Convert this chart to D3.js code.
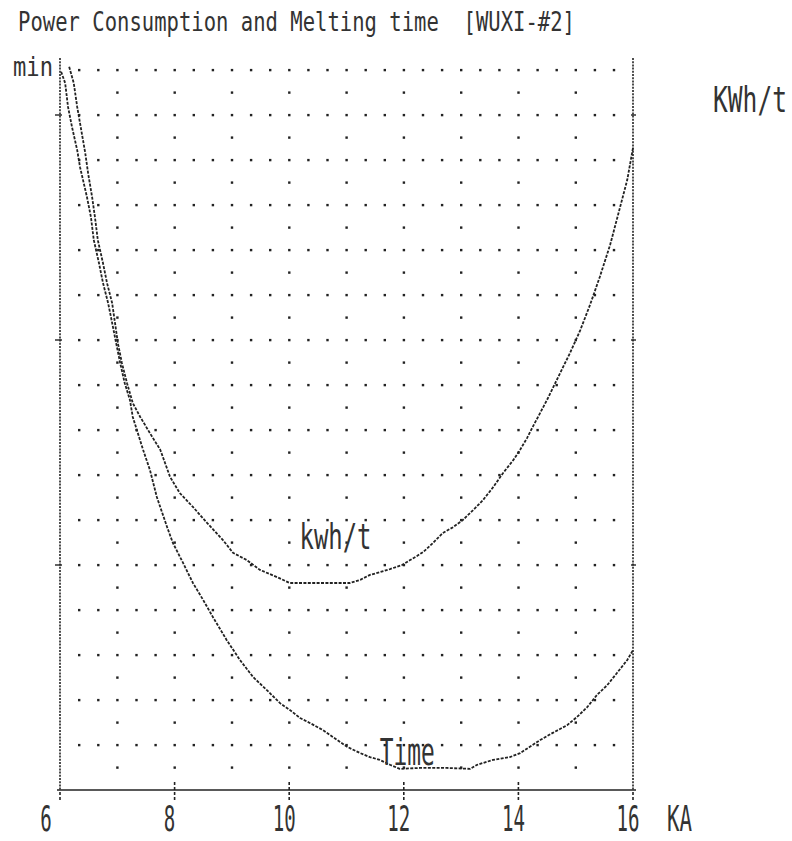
<!DOCTYPE html>
<html>
<head>
<meta charset="utf-8">
<script src="https://cdn.jsdelivr.net/npm/d3@7"></script>
<style>
  html, body { margin: 0; padding: 0; background: #fff; }
  svg { display: block; }
  text { font-family: "DejaVu Sans Mono", monospace; fill: #333; white-space: pre; }
</style>
</head>
<body>
<svg id="chart" width="792" height="841"></svg>
<script>
// ---- data ----
const titleText = "Power Consumption and Melting time  [WUXI-#2]";
const leftUnit = "min";
const rightUnit = "KWh/t";
const xUnit = "KA";
const xTicks = [6, 8, 10, 12, 14, 16];
const yTicks = [5, 10, 15];            // axis tick marks (grid units, unlabelled)

// kWh/t curve (x in KA, y in grid units 0..16)
const kwhX = [6.16, 6.24, 6.30, 6.37, 6.44, 6.49, 6.56, 6.61, 6.66, 6.75, 6.82, 6.91, 6.96, 7.01, 7.08, 7.17, 7.27, 7.40, 7.57, 7.75, 7.92, 8.09, 8.32, 8.57, 8.84, 9.02, 9.26, 9.49, 9.79, 10.01, 11.06, 11.24, 11.41, 11.58, 11.76, 11.97, 12.11, 12.23, 12.34, 12.51, 12.68, 12.86, 13.03, 13.21, 13.38, 13.56, 13.73, 13.91, 14.03, 14.15, 14.25, 14.38, 14.50, 14.60, 14.73, 14.90, 15.08, 15.25, 15.42, 15.60, 15.77, 15.90, 16.00];
const kwhY = [16.07, 15.71, 15.18, 14.67, 14.16, 13.71, 13.18, 12.73, 12.22, 11.71, 11.27, 10.82, 10.38, 9.93, 9.49, 9.04, 8.60, 8.29, 7.93, 7.56, 6.96, 6.60, 6.29, 5.93, 5.56, 5.27, 5.11, 4.89, 4.73, 4.60, 4.60, 4.67, 4.78, 4.84, 4.91, 5.00, 5.11, 5.20, 5.29, 5.49, 5.71, 5.84, 6.00, 6.22, 6.44, 6.73, 7.04, 7.33, 7.56, 7.82, 8.07, 8.38, 8.67, 8.93, 9.27, 9.71, 10.22, 10.78, 11.40, 12.11, 12.93, 13.56, 14.27];

// Melting time curve
const timeX = [6.02, 6.09, 6.14, 6.21, 6.30, 6.35, 6.47, 6.54, 6.59, 6.68, 6.75, 6.84, 6.91, 6.98, 7.05, 7.13, 7.22, 7.27, 7.45, 7.57, 7.69, 7.87, 7.97, 8.15, 8.32, 8.50, 8.67, 8.91, 9.14, 9.37, 9.61, 9.84, 10.01, 10.19, 10.36, 10.59, 10.76, 11.01, 11.24, 11.41, 11.58, 11.76, 11.93, 12.28, 12.75, 13.16, 13.28, 13.56, 13.85, 14.03, 14.20, 14.38, 14.60, 14.85, 15.02, 15.20, 15.37, 15.55, 15.72, 15.90, 16.00];
const timeY = [15.96, 15.71, 15.18, 14.73, 14.22, 13.84, 13.18, 12.73, 12.22, 11.71, 11.27, 10.82, 10.38, 9.93, 9.49, 9.04, 8.67, 8.29, 7.56, 7.11, 6.51, 5.84, 5.49, 5.04, 4.60, 4.22, 3.84, 3.33, 2.89, 2.51, 2.22, 1.93, 1.78, 1.60, 1.49, 1.33, 1.18, 0.96, 0.82, 0.73, 0.67, 0.56, 0.47, 0.49, 0.49, 0.47, 0.56, 0.67, 0.73, 0.82, 0.96, 1.11, 1.27, 1.44, 1.62, 1.84, 2.11, 2.33, 2.60, 2.89, 3.11];

const curveLabels = [
  { text: "kwh/t", x: 10.18, y: 5.35 },
  { text: "Time",  x: 11.58, y: 0.55 }
];

// ---- layout ----
const svg = d3.select("#chart");
const x = d3.scaleLinear().domain([6, 16]).range([60, 633]);
const y = d3.scaleLinear().domain([0, 16]).range([790, 70]);
const ink = "#222";

// dotted grid
const gGrid = svg.append("g");
const majorCols = d3.range(1, 30).map(k => 6 + k / 3);
const minorCols = d3.range(7, 16);
const majorRows = d3.range(1, 17);
const minorRows = d3.range(0, 16).map(v => v + 0.5);
majorRows.forEach(r => majorCols.forEach(c => {
  gGrid.append("rect").attr("x", x(c) - 1.1).attr("y", y(r) - 1.1)
    .attr("width", 2.4).attr("height", 2.4).attr("fill", ink);
}));
minorRows.forEach(r => minorCols.forEach(c => {
  gGrid.append("rect").attr("x", x(c) - 1.1).attr("y", y(r) - 1.1)
    .attr("width", 2.4).attr("height", 2.4).attr("fill", ink);
}));

// vertical axes (dense dotted)
[6, 16].forEach(v => {
  svg.append("line").attr("x1", x(v)).attr("x2", x(v))
    .attr("y1", y(16) - 12).attr("y2", y(0))
    .attr("stroke", ink).attr("stroke-width", 1.6)
    .attr("stroke-dasharray", "2,1.2");
});
// axis tick marks on the vertical axes
yTicks.forEach(v => {
  svg.append("line").attr("x1", x(6) - 5).attr("x2", x(6) + 2)
    .attr("y1", y(v)).attr("y2", y(v)).attr("stroke", ink).attr("stroke-width", 1.4);
  svg.append("line").attr("x1", x(16) - 2).attr("x2", x(16) + 3)
    .attr("y1", y(v)).attr("y2", y(v)).attr("stroke", ink).attr("stroke-width", 1.4);
});

// bottom axis
const xAxis = d3.axisBottom(x).tickValues(xTicks).tickSize(0).tickFormat("");
const gx = svg.append("g").attr("transform", `translate(0,${y(0)})`).call(xAxis);
gx.select(".domain").attr("stroke", ink).attr("stroke-width", 1.6)
  .attr("d", `M${x(6) - 3},0H${x(16) + 3}`);
// tick marks above and below the axis
xTicks.forEach(v => {
  const inner = v !== 6 && v !== 16;
  svg.append("line").attr("x1", x(v)).attr("x2", x(v))
    .attr("y1", y(0) + (inner ? -8 : 2)).attr("y2", y(0) + 12)
    .attr("stroke", ink).attr("stroke-width", 1.6).attr("stroke-dasharray", "3,2");
});

// text helper: monospace, stretched vertically, fitted to a width
function label(txt, x0, base, width, size, sy) {
  const g = svg.append("g").attr("transform", `translate(${x0},${base}) scale(1,${sy})`);
  g.append("text").attr("x", 0).attr("y", 0)
    .attr("font-size", size)
    .attr("xml:space", "preserve")
    .attr("textLength", width).attr("lengthAdjust", "spacingAndGlyphs")
    .text(txt);
}

// x tick labels
xTicks.forEach((v, i) => {
  const s = String(v);
  const w = s.length * 11.5;
  const off = i === 0 ? -14 : -5;
  label(s, x(v) + off - w / 2, 831, w, 20, 1.8);
});
label(xUnit, 667, 831, 25, 20, 1.8);

// title and units
label(titleText, 18, 31, 557, 20, 1.35);
label(leftUnit, 13, 76, 40, 18, 1.5);
label(rightUnit, 713, 112, 74, 20, 1.75);

// curves
const line = d3.line().x(d => x(d[0])).y(d => y(d[1]));
const kwh = d3.zip(kwhX, kwhY);
const time = d3.zip(timeX, timeY);
[kwh, time].forEach(data => {
  svg.append("path").datum(data).attr("d", line)
    .attr("fill", "none").attr("stroke", ink).attr("stroke-width", 1.8)
    .attr("stroke-dasharray", "3,1.4");
});

// curve labels
label(curveLabels[0].text, x(curveLabels[0].x), y(curveLabels[0].y), 72, 20, 1.75);
label(curveLabels[1].text, x(curveLabels[1].x), y(curveLabels[1].y), 55, 20, 1.9);
</script>
</body>
</html>
